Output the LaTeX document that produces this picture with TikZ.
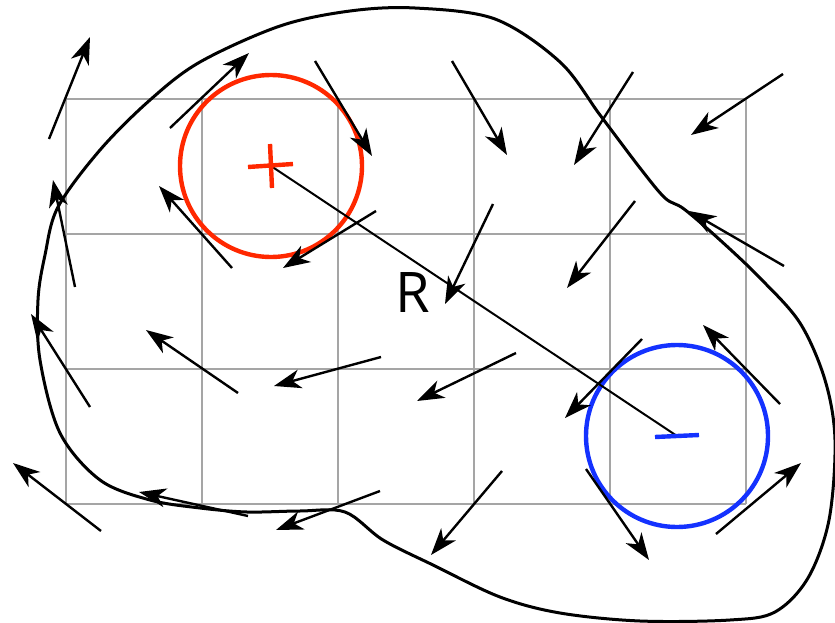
\documentclass[tikz,border=0pt]{standalone}
\usepackage{fontspec}
\setmainfont{Open Sans}
\usetikzlibrary{arrows.meta}
\definecolor{gridgray}{RGB}{165,165,165}
\definecolor{posred}{RGB}{255,40,0}
\definecolor{negblue}{RGB}{20,50,255}
\tikzset{
  vec/.style={line width=2.4pt,-{Stealth[length=27pt,width=19pt,inset=8pt]}},
  loopline/.style={line width=3pt},
  charge/.style={line width=4.4pt}
}
\begin{document}
\begin{tikzpicture}[x=1pt,y=-1pt]
\useasboundingbox (0,0) rectangle (835,623);
% grid
\foreach \x in {66,202,338,474,610,746} \draw[gridgray,line width=1.3pt] (\x,99) -- (\x,504);
\foreach \y in {99,234,369,504} \draw[gridgray,line width=1.3pt] (66,\y) -- (746,\y);
% closed loop
\draw[loopline] plot[smooth cycle,tension=0.55] coordinates {
 (415,8) (495,19) (560,62) (600,115) (640,168) (665,198) (684,209) (720,240) (760,278)
 (800,323) (825,380) (835,440) (829,520) (808,578) (775,612) (730,620) (640,621)
 (560,613) (500,597) (433,565) (383,540) (345,512) (300,511) (247,512) (200,508)
 (150,500) (100,480) (60,433) (40,360) (38,300) (45,255) (58,207) (100,150)
 (150,100) (200,62) (280,26) (350,11)};
% charges
\coordinate (qp) at (271,166);
\coordinate (qn) at (677,436);
\draw[posred,charge] (qp) circle[radius=91];
\draw[negblue,charge] (qn) circle[radius=91];
\draw[line width=2pt] (qp) -- (qn);
\node[font=\fontsize{56}{60}\selectfont,inner sep=0pt] (rlabel) at (413,293) {R};
\draw[posred,charge] (248,167) -- (293,164) (270,144) -- (272,188);
\draw[negblue,charge] (655,437) -- (699,435);
% field arrows
\draw[vec] (49,139) -- (90,37);
\draw[vec] (170,128) -- (249,53);
\draw[vec] (315,61) -- (372,156);
\draw[vec] (452,61) -- (507,155);
\draw[vec] (633,72) -- (574,165);
\draw[vec] (783,74) -- (691,135);
\draw[vec] (75,287) -- (53,180);
\draw[vec] (232,268) -- (159,186);
\draw[vec] (376,211) -- (283,268);
\draw[vec] (493,204) -- (445,304);
\draw[vec] (635,201) -- (567,288);
\draw[vec] (784,266) -- (689,211);
\draw[vec] (90,407) -- (31,314);
\draw[vec] (238,393) -- (146,330);
\draw[vec] (381,357) -- (274,386);
\draw[vec] (516,353) -- (417,401);
\draw[vec] (642,339) -- (565,418);
\draw[vec] (780,404) -- (703,325);
\draw[vec] (101,531) -- (13,463);
\draw[vec] (248,516) -- (139,492);
\draw[vec] (380,491) -- (276,530);
\draw[vec] (502,471) -- (431,555);
\draw[vec] (586,469) -- (649,560);
\draw[vec] (716,534) -- (801,463);
\end{tikzpicture}
\end{document}
